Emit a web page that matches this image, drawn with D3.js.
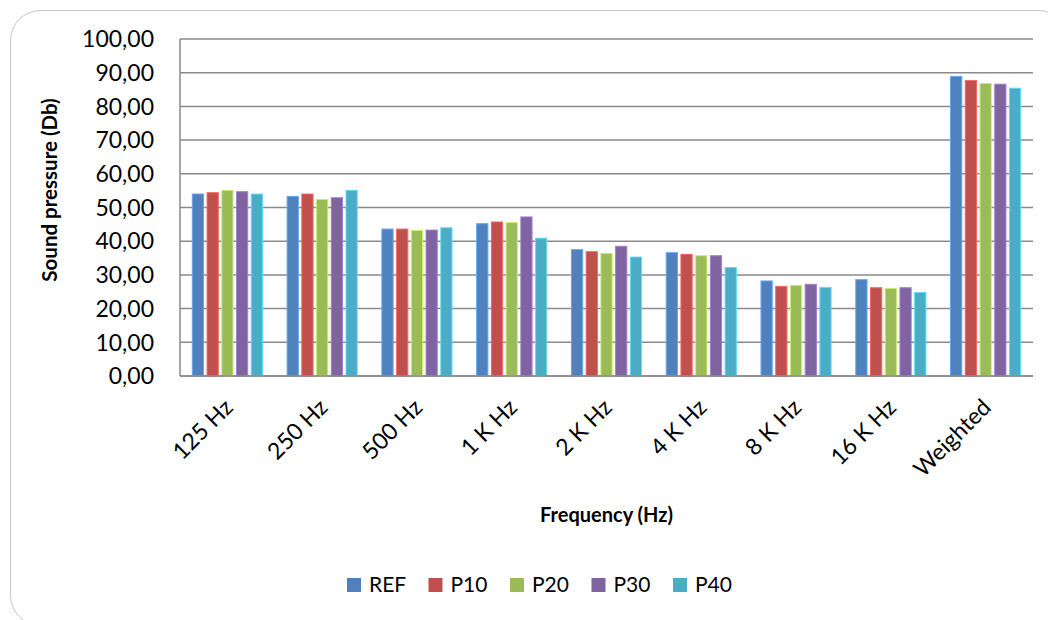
<!DOCTYPE html>
<html>
<head>
<meta charset="utf-8">
<script src="https://cdn.jsdelivr.net/npm/d3@7"></script>
<style>
  body { margin: 0; background: #fff; }
  svg { display: block; font-family: Lato, "Open Sans", sans-serif; }
</style>
</head>
<body>
<div id="chart"></div>
<script>
// values
const categories = ["125 Hz", "250 Hz", "500 Hz", "1 K Hz", "2 K Hz", "4 K Hz", "8 K Hz", "16 K Hz", "Weighted"];
const seriesNames = ["REF", "P10", "P20", "P30", "P40"];
const REF = [54.0, 53.3, 43.6, 45.2, 37.5, 36.6, 28.2, 28.6, 88.9];
const P10 = [54.4, 54.0, 43.6, 45.7, 36.9, 36.1, 26.6, 26.2, 87.7];
const P20 = [55.1, 52.4, 43.2, 45.5, 36.4, 35.7, 26.9, 26.0, 86.8];
const P30 = [54.7, 52.9, 43.3, 47.2, 38.5, 35.7, 27.2, 26.2, 86.6];
const P40 = [54.0, 55.1, 44.0, 40.9, 35.3, 32.2, 26.3, 24.8, 85.4];
const yTicks = [0, 10, 20, 30, 40, 50, 60, 70, 80, 90, 100];
const colors = ["#4f81bd", "#c0504d", "#9bbb59", "#8064a2", "#4bacc6"];

const series = [REF, P10, P20, P30, P40];

const width = 1048, height = 620;
const margin = {left: 180, right: 15, top: 39, bottom: 244};

const svg = d3.select("#chart").append("svg")
    .attr("width", width)
    .attr("height", height);

// chart frame
svg.append("rect")
    .attr("x", 10.5).attr("y", 10.5)
    .attr("width", 1058).attr("height", 615)
    .attr("rx", 30).attr("ry", 30)
    .attr("fill", "#fff")
    .attr("stroke", "#c6c6c6");

const x0 = d3.scaleBand()
    .domain(categories)
    .range([margin.left, width - margin.right])
    .paddingInner(0.26)
    .paddingOuter(0.13);

const x1 = d3.scaleBand()
    .domain(seriesNames)
    .range([0, x0.bandwidth()])
    .paddingInner(0.236);

const y = d3.scaleLinear()
    .domain([0, 100])
    .range([height - margin.bottom, margin.top]);

const fmt = v => v.toFixed(2).replace(".", ",");

// gridlines
svg.append("g")
    .selectAll("line")
    .data(yTicks)
    .join("line")
      .attr("x1", margin.left)
      .attr("x2", width - margin.right)
      .attr("y1", d => y(d))
      .attr("y2", d => y(d))
      .attr("stroke", "#8a8a8a")
      .attr("stroke-width", 1.5);

// y axis line
svg.append("line")
    .attr("x1", margin.left).attr("x2", margin.left)
    .attr("y1", y(100)).attr("y2", y(0))
    .attr("stroke", "#8a8a8a")
    .attr("stroke-width", 1.5);

// y tick labels
svg.append("g")
    .selectAll("text")
    .data(yTicks)
    .join("text")
      .attr("x", 154)
      .attr("y", d => y(d))
      .attr("dy", "0.36em")
      .attr("text-anchor", "end")
      .attr("font-size", 23)
      .attr("fill", "#000")
      .text(fmt);

// bars
const group = svg.append("g")
    .selectAll("g")
    .data(categories)
    .join("g")
      .attr("transform", d => `translate(${x0(d)},0)`);

group.selectAll("rect")
    .data((d, i) => series.map((s, j) => ({name: seriesNames[j], value: s[i], color: colors[j]})))
    .join("rect")
      .attr("x", d => x1(d.name))
      .attr("y", d => y(d.value))
      .attr("width", x1.bandwidth())
      .attr("height", d => y(0) - y(d.value))
      .attr("fill", d => d.color)
      .attr("stroke", d => d3.color(d.color).brighter(0.7))
      .attr("stroke-width", 1);

// bottom axis line over the bars
svg.append("line")
    .attr("x1", margin.left).attr("x2", width - margin.right)
    .attr("y1", y(0)).attr("y2", y(0))
    .attr("stroke", "#8a8a8a")
    .attr("stroke-width", 1.5);

// x tick labels, rotated
svg.append("g")
    .selectAll("text")
    .data(categories)
    .join("text")
      .attr("transform", d => `translate(${x0(d) + x0.bandwidth() / 2 + 1},${y(0) + 27}) rotate(-45)`)
      .attr("dy", "0.36em")
      .attr("text-anchor", "end")
      .attr("font-size", 23)
      .attr("fill", "#000")
      .text(d => d);

// axis titles
svg.append("text")
    .attr("x", (margin.left + width - margin.right) / 2)
    .attr("y", 522)
    .attr("text-anchor", "middle")
    .attr("font-size", 20)
    .attr("font-weight", "bold")
    .text("Frequency (Hz)");

svg.append("text")
    .attr("transform", "translate(50,190) rotate(-90)")
    .attr("dy", "0.36em")
    .attr("text-anchor", "middle")
    .attr("font-size", 20.5)
    .attr("font-weight", "bold")
    .text("Sound pressure (Db)");

// legend
const legend = svg.append("g")
    .attr("transform", "translate(347,578)")
    .selectAll("g")
    .data(seriesNames)
    .join("g")
      .attr("transform", (d, i) => `translate(${i * 81.5},0)`);

legend.append("rect")
    .attr("width", 14).attr("height", 14)
    .attr("fill", (d, i) => colors[i]);

legend.append("text")
    .attr("x", 22)
    .attr("y", 14)
    .attr("font-size", 21)
    .attr("fill", "#000")
    .text(d => d);
</script>
</body>
</html>
